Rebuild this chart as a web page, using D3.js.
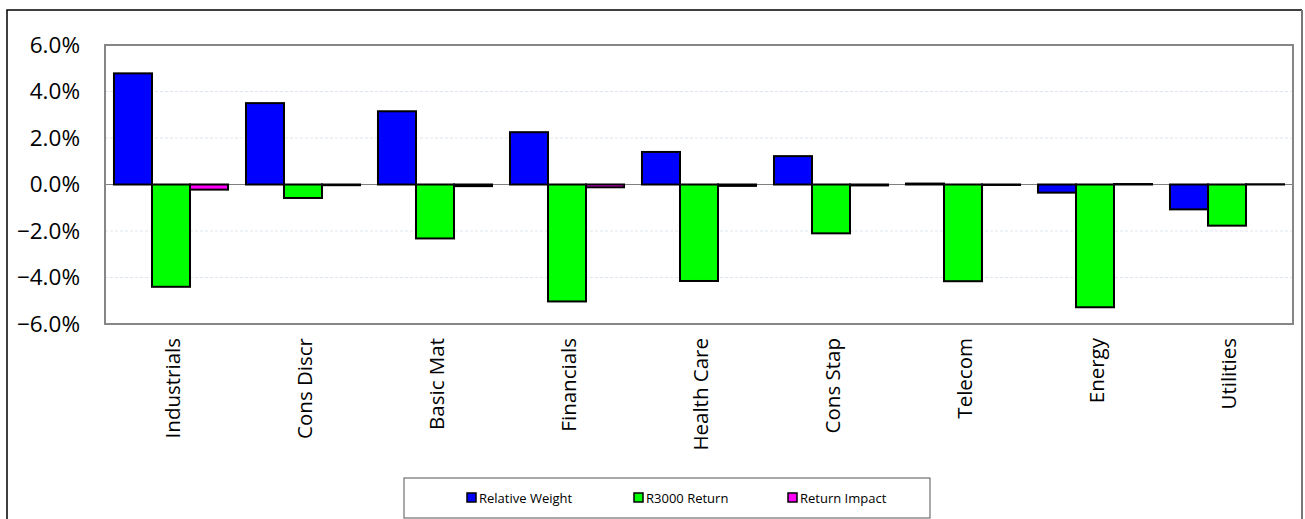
<!DOCTYPE html>
<html lang="en">
<head>
<meta charset="UTF-8">
<script src="https://cdnjs.cloudflare.com/ajax/libs/d3/7.8.5/d3.min.js"></script>
<style>
  html, body { margin: 0; padding: 0; background: #fff; }
  svg { display: block; font-family: "Open Sans", sans-serif; }
</style>
</head>
<body>
<div id="chart"></div>
<script>
// sectors, left to right
var categories = ["Industrials", "Cons Discr", "Basic Mat", "Financials", "Health Care",
                  "Cons Stap", "Telecom", "Energy", "Utilities"];
var seriesNames = ["Relative Weight", "R3000 Return", "Return Impact"];
// values in %
var relativeWeight = [4.78, 3.50, 3.15, 2.25, 1.40, 1.22, 0.04, -0.35, -1.07];
var r3000Return    = [-4.40, -0.58, -2.32, -5.03, -4.15, -2.10, -4.16, -5.28, -1.77];
var returnImpact   = [-0.22, -0.03, -0.07, -0.12, -0.06, -0.04, -0.02, 0.02, 0.01];
var yTicks = [-6, -4, -2, 0, 2, 4, 6];

var colors = ["#0000ff", "#00ff00", "#ff00ff"];
var series = [relativeWeight, r3000Return, returnImpact];

var W = 1305, H = 519;
var plot = { left: 105, top: 45, right: 1293, bottom: 324 };

var svg = d3.select("#chart").append("svg")
  .attr("width", W).attr("height", H);

// outer frame (left/top dark, right grey)
svg.append("path")
  .attr("d", "M7,530 V10 H1302")
  .attr("fill", "none").attr("stroke", "#000").attr("stroke-width", 1.5);
svg.append("line")
  .attr("x1", 1302).attr("x2", 1302).attr("y1", 10).attr("y2", 530)
  .attr("stroke", "#777").attr("stroke-width", 2);

var x0 = d3.scaleBand().domain(categories).range([plot.left, plot.right]).paddingInner(0.136).paddingOuter(0.068);
var x1 = d3.scaleBand().domain(d3.range(3)).range([0, x0.bandwidth()]);
var y = d3.scaleLinear().domain([-6, 6]).range([plot.bottom, plot.top]);

// gridlines
svg.append("g").selectAll("line")
  .data(yTicks.filter(d => d !== 0 && Math.abs(d) !== 6))
  .enter().append("line")
  .attr("x1", plot.left).attr("x2", plot.right)
  .attr("y1", d => y(d)).attr("y2", d => y(d))
  .attr("stroke", "#dde6f0").attr("stroke-width", 1)
  .attr("stroke-dasharray", "3,2");

// zero line
svg.append("line")
  .attr("x1", plot.left).attr("x2", plot.right)
  .attr("y1", y(0)).attr("y2", y(0))
  .attr("stroke", "#808080").attr("stroke-width", 1);

// y axis labels
var yAxis = svg.append("g")
  .attr("transform", "translate(" + plot.left + ",0)")
  .call(d3.axisLeft(y).tickValues(yTicks).tickSize(0).tickPadding(25)
    .tickFormat(d => d3.format(".1f")(d) + "%"));
yAxis.select(".domain").remove();
yAxis.selectAll("text")
  .attr("font-size", null).attr("font-family", null)
  .style("font-size", "22.5px").style("fill", "#000")
  .style("font-family", "'Open Sans', sans-serif");
yAxis.attr("font-size", null).attr("font-family", null);

// bars
var groups = svg.append("g").selectAll("g")
  .data(categories).enter().append("g")
  .attr("transform", d => "translate(" + x0(d) + ",0)");

groups.selectAll("rect")
  .data((c, i) => series.map((s, k) => ({ k: k, v: s[i] })))
  .enter().append("rect")
  .attr("x", d => x1(d.k))
  .attr("width", x1.bandwidth())
  .attr("y", d => y(Math.max(0, d.v)))
  .attr("height", d => Math.abs(y(d.v) - y(0)))
  .attr("fill", d => colors[d.k])
  .attr("stroke", "#000").attr("stroke-width", 2);

// plot area border
svg.append("rect")
  .attr("x", plot.left).attr("y", plot.top)
  .attr("width", plot.right - plot.left).attr("height", plot.bottom - plot.top)
  .attr("fill", "none").attr("stroke", "#868686").attr("stroke-width", 2);

// category labels
svg.append("g").selectAll("text")
  .data(categories).enter().append("text")
  .attr("transform", d => "translate(" + (x0(d) + x0.bandwidth() / 2 + 9) + ",338) rotate(-90)")
  .attr("text-anchor", "end")
  .style("font-size", "20.5px")
  .text(d => d);

// legend
var legend = svg.append("g");
legend.append("rect")
  .attr("x", 404).attr("y", 478).attr("width", 526).attr("height", 40)
  .attr("fill", "#fff").attr("stroke", "#555").attr("stroke-width", 1);
var legX = [467, 634, 788];
var items = legend.selectAll("g.item").data(seriesNames).enter().append("g")
  .attr("transform", (d, i) => "translate(" + legX[i] + ",498)");
items.append("rect")
  .attr("x", 0).attr("y", -5).attr("width", 9).attr("height", 9)
  .attr("fill", (d, i) => colors[i]).attr("stroke", "#000").attr("stroke-width", 1.5);
items.append("text")
  .attr("x", 12).attr("y", 4.5)
  .style("font-size", "13px")
  .text(d => d);
</script>
</body>
</html>
